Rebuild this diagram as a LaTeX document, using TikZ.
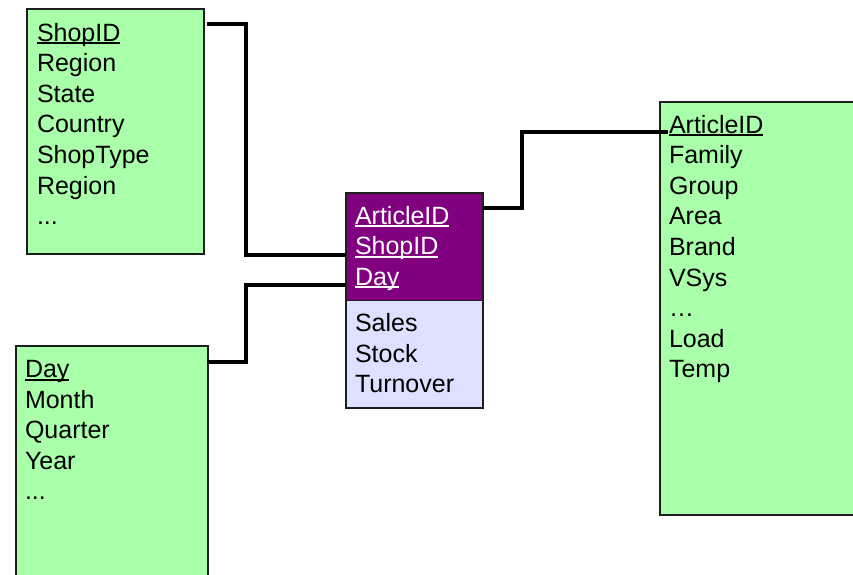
\documentclass[tikz,border=0pt]{standalone}
\usepackage{fontspec}
\setmainfont{Liberation Sans}
\usetikzlibrary{calc}

\definecolor{dimgreen}{RGB}{170,255,170}
\definecolor{keypurple}{RGB}{128,0,128}
\definecolor{measlav}{RGB}{222,224,255}
\definecolor{edgegray}{RGB}{30,30,30}

% underline at a fixed depth below the baseline, descenders cross it
\newcommand\keyul[1]{\setbox0\hbox{#1}\rlap{\rule[-3pt]{\wd0}{1.8pt}}\box0}
% three dots, kept out of \foreach lists where ... means a range
\newcommand\moredots{...}
\newcommand\moreell{…}

\tikzset{
  tbl/.style={draw=edgegray, line width=1.1pt, rectangle, anchor=north west,
              inner sep=0pt, outer sep=0pt},
  attr/.style={anchor=base west, inner sep=0pt, outer sep=0pt,
               font=\fontsize{25}{29}\selectfont},
  conn/.style={draw=black, line width=4.2pt, line join=miter},
}

\begin{document}
\begin{tikzpicture}[x=1pt, y=-1pt]
  \useasboundingbox (0,0) rectangle (853,574);
  \clip (0,0) rectangle (853,574);

  % dimension tables and the fact table
  \node[tbl, fill=dimgreen, minimum width=177pt, minimum height=245pt] (shop) at (27,9) {};
  \node[tbl, fill=dimgreen, minimum width=192pt, minimum height=240pt] (day) at (16,346) {};
  \node[tbl, fill=dimgreen, minimum width=200pt, minimum height=413pt] (art) at (660,102) {};
  \node[tbl, fill=keypurple, minimum width=137pt, minimum height=107.5pt] (factkey) at (346,193) {};
  \node[tbl, fill=measlav, minimum width=137pt, minimum height=107.5pt] (factmeas) at (346,300.5) {};

  % attribute lists
  \foreach \t [count=\i] in {\keyul{ShopID},Region,State,Country,ShopType,Region,\moredots}
    \node[attr] (s\i) at ({37},{41+30.6*(\i-1)}) {\t};
  \foreach \t [count=\i] in {\keyul{Day},Month,Quarter,Year,\moredots}
    \node[attr] (d\i) at ({25},{377.5+30.6*(\i-1)}) {\t};
  \foreach \t [count=\i] in {\keyul{ArticleID},Family,Group,Area,Brand,VSys,\moreell,Load,Temp}
    \node[attr] (a\i) at ({669},{133+30.6*(\i-1)}) {\t};
  \foreach \t [count=\i] in {\keyul{ArticleID},\keyul{ShopID},\keyul{Day}}
    \node[attr, text=white] (f\i) at ({355},{224+30.6*(\i-1)}) {\t};
  \foreach \t [count=\i] in {Sales,Stock,Turnover}
    \node[attr] (m\i) at ({355},{331.5+30.6*(\i-1)}) {\t};

  % relationships
  \draw[conn] ($(shop.north east)+(3,15)$) -- ++(39,0) |- (f2.base -| factkey.west);
  \draw[conn] (f3.base -| factkey.west) -- ++(-100,0) |- ($(day.north east)+(-1,16)$);
  \draw[conn] ($(factkey.north east)+(0,15)$) -- ++(39,0) |- ($(a1.base -| art.west)+(8,-1)$);
\end{tikzpicture}
\end{document}
